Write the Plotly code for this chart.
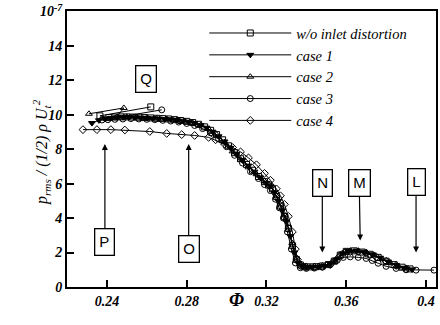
import plotly.graph_objects as go

# ---------------- data ----------------
x_wo = [0.392, 0.388, 0.384, 0.380, 0.376, 0.372, 0.368, 0.364, 0.360, 0.357, 0.354, 0.351,
        0.348, 0.345, 0.342, 0.339, 0.337, 0.335, 0.333, 0.331, 0.329, 0.327, 0.325, 0.323,
        0.321, 0.319, 0.316, 0.313, 0.310, 0.307, 0.304, 0.301, 0.298, 0.295, 0.292, 0.289,
        0.286, 0.283, 0.280, 0.277, 0.274, 0.271, 0.268, 0.265, 0.262, 0.259, 0.256, 0.253,
        0.250, 0.247, 0.244, 0.241, 0.2365, 0.262]
y_wo = [1.05, 1.15, 1.30, 1.50, 1.72, 1.90, 2.03, 2.10, 2.07, 1.85, 1.50, 1.30,
        1.22, 1.18, 1.17, 1.18, 1.28, 1.60, 2.40, 3.40, 4.10, 4.70, 5.25, 5.70,
        5.92, 6.12, 6.42, 6.78, 7.12, 7.45, 7.80, 8.20, 8.55, 8.85, 9.10, 9.30,
        9.45, 9.55, 9.62, 9.67, 9.72, 9.76, 9.78, 9.80, 9.82, 9.84, 9.86, 9.87,
        9.88, 9.88, 9.87, 9.84, 9.94, 10.46]

x_c1 = [0.393, 0.389, 0.385, 0.381, 0.377, 0.373, 0.369, 0.365, 0.361, 0.358, 0.355, 0.352,
        0.349, 0.346, 0.343, 0.340, 0.338, 0.336, 0.334, 0.332, 0.330, 0.328, 0.326, 0.324,
        0.322, 0.320, 0.317, 0.314, 0.311, 0.308, 0.305, 0.302, 0.299, 0.296, 0.293, 0.290,
        0.287, 0.284, 0.281, 0.278, 0.275, 0.272, 0.269, 0.266, 0.263, 0.260, 0.257, 0.254,
        0.251, 0.248, 0.245, 0.242, 0.239, 0.236, 0.2325]
y_c1 = [1.02, 1.12, 1.28, 1.48, 1.70, 1.90, 2.05, 2.12, 2.10, 1.95, 1.60, 1.35,
        1.22, 1.18, 1.16, 1.17, 1.22, 1.40, 2.00, 2.95, 3.80, 4.45, 5.00, 5.50,
        5.85, 6.05, 6.35, 6.70, 7.05, 7.38, 7.72, 8.08, 8.45, 8.75, 9.02, 9.25,
        9.40, 9.52, 9.60, 9.66, 9.70, 9.74, 9.76, 9.78, 9.80, 9.82, 9.84, 9.86,
        9.87, 9.88, 9.86, 9.82, 9.76, 9.68, 9.52]

x_c2 = [0.391, 0.386, 0.382, 0.378, 0.374, 0.370, 0.366, 0.362, 0.359, 0.356, 0.353, 0.350,
        0.346, 0.342, 0.339, 0.337, 0.335, 0.333, 0.331, 0.329, 0.327, 0.325, 0.322, 0.319,
        0.315, 0.311, 0.307, 0.303, 0.299, 0.295, 0.291, 0.287, 0.283, 0.279, 0.275, 0.270,
        0.265, 0.260, 0.255, 0.250, 0.245, 0.2485, 0.231]
y_c2 = [1.08, 1.22, 1.40, 1.62, 1.84, 2.00, 2.08, 2.10, 2.02, 1.78, 1.45, 1.28,
        1.20, 1.17, 1.19, 1.30, 1.70, 2.55, 3.50, 4.20, 4.80, 5.30, 5.85, 6.15,
        6.55, 6.95, 7.40, 7.88, 8.40, 8.85, 9.18, 9.40, 9.53, 9.62, 9.70, 9.76,
        9.80, 9.83, 9.86, 9.88, 9.88, 10.40, 10.06]

x_c3 = [0.404, 0.395, 0.390, 0.385, 0.380, 0.376, 0.373, 0.370, 0.366, 0.362, 0.3585, 0.3555,
        0.352, 0.348, 0.344, 0.340, 0.337, 0.3345, 0.3325, 0.3305, 0.3285, 0.3265, 0.3245, 0.322,
        0.319, 0.316, 0.312, 0.308, 0.304, 0.300, 0.296, 0.292, 0.288, 0.284, 0.280, 0.276,
        0.272, 0.268, 0.264, 0.260, 0.256, 0.252, 0.248, 0.244, 0.2405, 0.2375, 0.2675]
y_c3 = [0.98, 0.98, 1.00, 1.08, 1.20, 1.38, 1.54, 1.66, 1.72, 1.75, 1.72, 1.55,
        1.30, 1.15, 1.10, 1.08, 1.12, 1.40, 2.20, 3.20, 4.00, 4.60, 5.10, 5.60,
        5.95, 6.30, 6.70, 7.20, 7.65, 8.15, 8.60, 8.95, 9.20, 9.38, 9.50, 9.58,
        9.64, 9.68, 9.72, 9.74, 9.76, 9.78, 9.76, 9.74, 9.72, 9.70, 10.29]

x_c4 = [0.390, 0.385, 0.380, 0.375, 0.370, 0.366, 0.362, 0.358, 0.355, 0.352, 0.348, 0.344,
        0.340, 0.337, 0.3355, 0.3345, 0.333, 0.331, 0.329, 0.327, 0.325, 0.322, 0.319, 0.315,
        0.311, 0.307, 0.303, 0.299, 0.2945, 0.291, 0.284, 0.2775, 0.270, 0.2615, 0.249, 0.242,
        0.235, 0.228]
y_c4 = [1.05, 1.25, 1.50, 1.75, 1.95, 2.05, 2.05, 1.90, 1.55, 1.30, 1.20, 1.15,
        1.15, 1.25, 1.60, 2.20, 3.20, 4.10, 4.80, 5.30, 5.70, 6.20, 6.60, 7.10,
        7.50, 7.85, 8.10, 8.30, 8.55, 8.69, 8.80, 8.85, 8.92, 9.03, 9.12, 9.14,
        9.14, 9.14]

series_names = ["w/o inlet distortion", "case 1", "case 2", "case 3", "case 4"]
series_x = [x_wo, x_c1, x_c2, x_c3, x_c4]
series_y = [y_wo, y_c1, y_c2, y_c3, y_c4]
symbols = ["square-open", "triangle-down", "triangle-up-open", "circle-open", "diamond-open"]

x_tickvals = [0.24, 0.28, 0.32, 0.36, 0.40]
x_ticktext = ["0.24", "0.28", "0.32", "0.36", "0.4"]
y_tickvals = [0, 2, 4, 6, 8, 10, 12, 14, 16]
y_ticktext = ["0", "2", "4", "6", "8", "10", "12", "14", "10<sup>-7</sup>"]

# operating point labels: (label, box x, box y, arrow-tip x, arrow-tip y) ; None tip = no arrow
points_lbl = ["Q", "P", "O", "N", "M", "L"]
box_x = [0.2595, 0.239, 0.281, 0.348, 0.3665, 0.395]
box_y = [12.1, 2.6, 2.2, 6.05, 6.05, 6.1]
tip_x = [None, 0.239, 0.281, 0.348, 0.3670, 0.395]
tip_y = [None, 8.3, 8.3, 2.0, 2.7, 2.0]

# ---------------- figure ----------------
fig = go.Figure()
for name, xs, ys, sym in zip(series_names, series_x, series_y, symbols):
    fig.add_trace(go.Scatter(
        x=xs, y=ys, name=name, mode="lines+markers",
        line=dict(color="black", width=1),
        marker=dict(symbol=sym, size=6, color="black",
                    line=dict(color="black", width=1)),
    ))

serif = "Liberation Serif, Times New Roman, serif"
sans = "Liberation Sans, Arial, sans-serif"

annotations = []
for lbl, bx, by, tx, ty in zip(points_lbl, box_x, box_y, tip_x, tip_y):
    if tx is None:
        annotations.append(dict(x=bx, y=by, xref="x", yref="y", text=lbl, showarrow=False,
                                font=dict(family=sans, size=15, color="black"),
                                bordercolor="black", borderwidth=1.3, borderpad=4,
                                bgcolor="white"))
    else:
        annotations.append(dict(x=tx, y=ty, ax=bx, ay=by, xref="x", yref="y",
                                axref="x", ayref="y", text=lbl, showarrow=True,
                                arrowhead=2, arrowsize=1, arrowwidth=1.2, arrowcolor="black",
                                font=dict(family=sans, size=15, color="black"),
                                bordercolor="black", borderwidth=1.3, borderpad=4,
                                bgcolor="white"))

annotations.append(dict(x=-0.105, y=0.49, xref="paper", yref="paper",
                        text="p<sub>rms</sub> / (1/2) ρ U<sub>t</sub><sup>2</sup>",
                        textangle=-90, showarrow=False,
                        font=dict(family=serif, size=16, color="black", style="italic")))
annotations.append(dict(x=0.458, y=-0.09, xref="paper", yref="paper",
                        text="Φ", showarrow=False,
                        font=dict(family=serif, size=19, color="black",
                                  style="italic", weight="bold")))

tickfont = dict(family=serif, size=14, color="black", style="italic", weight="bold")

fig.update_layout(
    width=440, height=325,
    margin=dict(l=67, r=2, t=5, b=38),
    paper_bgcolor="white", plot_bgcolor="white",
    showlegend=True,
    legend=dict(x=0.372, y=0.978, xanchor="left", yanchor="top",
                bgcolor="rgba(0,0,0,0)", borderwidth=0,
                font=dict(family=serif, size=14.5, color="black", style="italic"),
                itemwidth=82, tracegroupgap=0),
    annotations=annotations,
)
fig.update_xaxes(range=[0.22, 0.405], tickvals=x_tickvals, ticktext=x_ticktext,
                 showgrid=False, zeroline=False, showline=True, mirror=True,
                 linecolor="black", linewidth=2, ticks="inside", ticklen=7, tickwidth=2,
                 tickcolor="black", tickfont=tickfont)
fig.update_yaxes(range=[0, 16.03], tickvals=y_tickvals, ticktext=y_ticktext,
                 showgrid=False, zeroline=False, showline=True, mirror=True,
                 linecolor="black", linewidth=2, ticks="inside", ticklen=7, tickwidth=2,
                 tickcolor="black", tickfont=tickfont, ticklabeloverflow="allow")

fig.write_html("out.html")
